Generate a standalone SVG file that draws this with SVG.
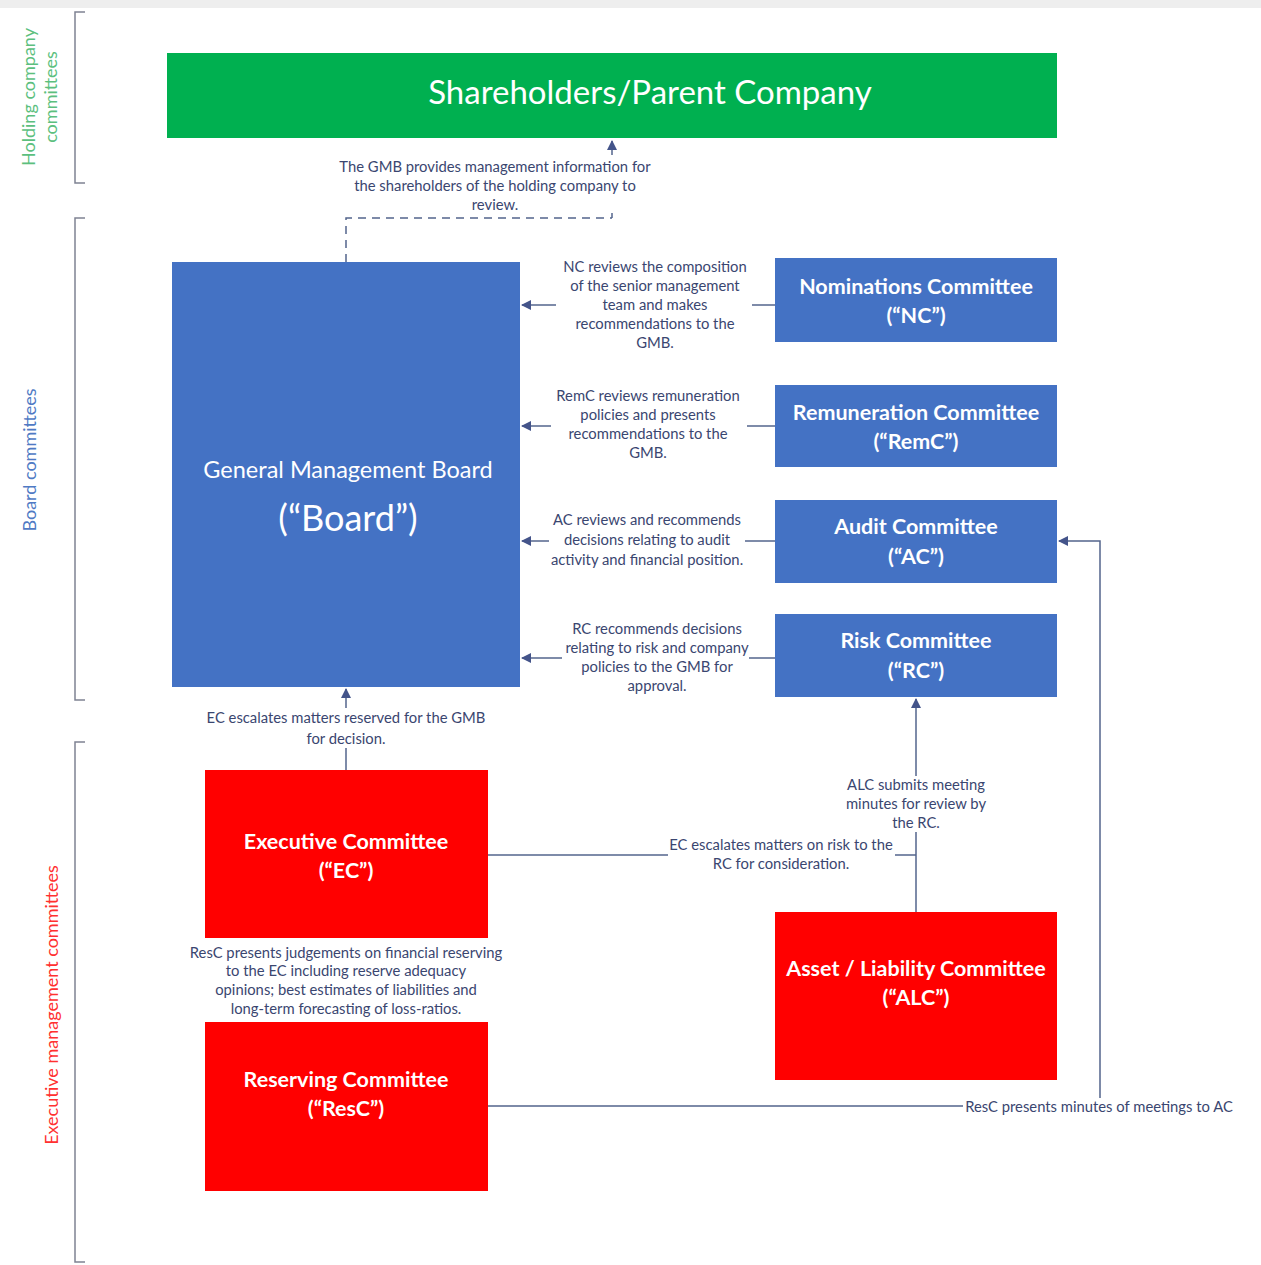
<svg xmlns="http://www.w3.org/2000/svg" width="1261" height="1265" viewBox="0 0 1261 1265">
<defs>
<style>
.lbl{font-family:Lato,"Open Sans","Liberation Sans",sans-serif;font-size:14.8px;fill:#3a4670;text-anchor:middle}
.ttl{font-family:Lato,"Open Sans","Liberation Sans",sans-serif;font-weight:bold;font-size:21.5px;fill:#ffffff;text-anchor:middle}
.conn{fill:none;stroke:#53648c;stroke-width:1.5}
.brk{fill:none;stroke:#7f8293;stroke-width:1.5}
.side{font-family:Lato,"Open Sans","Liberation Sans",sans-serif;font-size:18px;text-anchor:middle}
.blue{fill:#4472c4}
.red{fill:#ff0000}
</style>
<marker id="ah" viewBox="0 0 10 10" refX="9" refY="5" markerWidth="10" markerHeight="10" markerUnits="userSpaceOnUse" orient="auto">
<path d="M0,0 L10,5 L0,10 z" fill="#44548a"/>
</marker>
</defs>
<rect width="1261" height="1265" fill="#ffffff"/>
<rect width="1261" height="8" fill="#eeeeee"/>

<g id="side-labels">
<path class="brk" d="M85,12 H75 V183 H85"/>
<path class="brk" d="M85,218 H75 V700 H85"/>
<path class="brk" d="M85,742 H75 V1262 H85"/>
<text class="side" fill="#5cbf7e" transform="translate(35,97) rotate(-90)">Holding company</text>
<text class="side" fill="#5cbf7e" transform="translate(57,97) rotate(-90)">committees</text>
<text class="side" fill="#4f7ac4" transform="translate(36,460) rotate(-90)">Board committees</text>
<text class="side" fill="#ff3030" transform="translate(58,1005) rotate(-90)">Executive management committees</text>
</g>

<g id="connectors">
<path class="conn" d="M346,262 V218 H612" stroke-dasharray="8,6"/>
<path class="conn" d="M612,218 V141" marker-end="url(#ah)"/>
<path class="conn" d="M775,305 H522" marker-end="url(#ah)"/>
<path class="conn" d="M775,426 H522" marker-end="url(#ah)"/>
<path class="conn" d="M775,541 H522" marker-end="url(#ah)"/>
<path class="conn" d="M775,658 H522" marker-end="url(#ah)"/>
<path class="conn" d="M346,770 V689" marker-end="url(#ah)"/>
<path class="conn" d="M488,855 H916"/>
<path class="conn" d="M916,912 V699" marker-end="url(#ah)"/>
<path class="conn" d="M488,1106 H1100 V541 H1059" marker-end="url(#ah)"/>
</g>

<g id="labels">
<g fill="#ffffff">
<rect x="334" y="155" width="322" height="58"/>
<rect x="556" y="256" width="196" height="95"/>
<rect x="551" y="386" width="196" height="74"/>
<rect x="549" y="510" width="196" height="58"/>
<rect x="562" y="620" width="187" height="75"/>
<rect x="196" y="708" width="300" height="40"/>
<rect x="842" y="776" width="150" height="56"/>
<rect x="668" y="836" width="227" height="38"/>
<rect x="186" y="943" width="320" height="74"/>
<rect x="963" y="1098" width="276" height="18"/>
</g>
<text class="lbl" x="495" y="172">The GMB provides management information for</text>
<text class="lbl" x="495" y="191">the shareholders of the holding company to</text>
<text class="lbl" x="495" y="210">review.</text>
<text class="lbl" x="655" y="272">NC reviews the composition</text>
<text class="lbl" x="655" y="291">of the senior management</text>
<text class="lbl" x="655" y="310">team and makes</text>
<text class="lbl" x="655" y="329">recommendations to the</text>
<text class="lbl" x="655" y="348">GMB.</text>
<text class="lbl" x="648" y="401">RemC reviews remuneration</text>
<text class="lbl" x="648" y="420">policies and presents</text>
<text class="lbl" x="648" y="439">recommendations to the</text>
<text class="lbl" x="648" y="458">GMB.</text>
<text class="lbl" x="647" y="525">AC reviews and recommends</text>
<text class="lbl" x="647" y="545">decisions relating to audit</text>
<text class="lbl" x="647" y="565">activity and financial position.</text>
<text class="lbl" x="657" y="634">RC recommends decisions</text>
<text class="lbl" x="657" y="653">relating to risk and company</text>
<text class="lbl" x="657" y="672">policies to the GMB for</text>
<text class="lbl" x="657" y="691">approval.</text>
<text class="lbl" x="346" y="723">EC escalates matters reserved for the GMB</text>
<text class="lbl" x="346" y="744">for decision.</text>
<text class="lbl" x="916" y="790">ALC submits meeting</text>
<text class="lbl" x="916" y="809">minutes for review by</text>
<text class="lbl" x="916" y="828">the RC.</text>
<text class="lbl" x="781" y="850">EC escalates matters on risk to the</text>
<text class="lbl" x="781" y="869">RC for consideration.</text>
<text class="lbl" x="346" y="958">ResC presents judgements on financial reserving</text>
<text class="lbl" x="346" y="976">to the EC including reserve adequacy</text>
<text class="lbl" x="346" y="995">opinions; best estimates of liabilities and</text>
<text class="lbl" x="346" y="1014">long-term forecasting of loss-ratios.</text>
<text class="lbl" x="1099" y="1112">ResC presents minutes of meetings to AC</text>
</g>

<g id="shareholders">
<rect x="167" y="53" width="890" height="85" fill="#00b050"/>
<text x="650" y="104" font-family="Lato,'Open Sans','Liberation Sans',sans-serif" font-size="33" fill="#ffffff" text-anchor="middle">Shareholders/Parent Company</text>
</g>

<g id="board">
<rect class="blue" x="172" y="262" width="348" height="425"/>
<text x="348" y="478" font-family="Lato,'Open Sans','Liberation Sans',sans-serif" font-size="23.5" fill="#ffffff" text-anchor="middle">General Management Board</text>
<text x="348" y="531" font-family="Lato,'Open Sans','Liberation Sans',sans-serif" font-size="36" fill="#ffffff" text-anchor="middle">(“Board”)</text>
</g>

<g id="nc">
<rect class="blue" x="775" y="258" width="282" height="84"/>
<text class="ttl" x="916" y="294">Nominations Committee</text>
<text class="ttl" x="916" y="323">(“NC”)</text>
</g>
<g id="remc">
<rect class="blue" x="775" y="385" width="282" height="82"/>
<text class="ttl" x="916" y="420">Remuneration Committee</text>
<text class="ttl" x="916" y="449">(“RemC”)</text>
</g>
<g id="ac">
<rect class="blue" x="775" y="500" width="282" height="83"/>
<text class="ttl" x="916" y="534">Audit Committee</text>
<text class="ttl" x="916" y="564">(“AC”)</text>
</g>
<g id="rc">
<rect class="blue" x="775" y="614" width="282" height="83"/>
<text class="ttl" x="916" y="648">Risk Committee</text>
<text class="ttl" x="916" y="678">(“RC”)</text>
</g>
<g id="ec">
<rect class="red" x="205" y="770" width="283" height="168"/>
<text class="ttl" x="346" y="849">Executive Committee</text>
<text class="ttl" x="346" y="878">(“EC”)</text>
</g>
<g id="resc">
<rect class="red" x="205" y="1022" width="283" height="169"/>
<text class="ttl" x="346" y="1087">Reserving Committee</text>
<text class="ttl" x="346" y="1116">(“ResC”)</text>
</g>
<g id="alc">
<rect class="red" x="775" y="912" width="282" height="168"/>
<text class="ttl" x="916" y="976">Asset / Liability Committee</text>
<text class="ttl" x="916" y="1005">(“ALC”)</text>
</g>
</svg>
